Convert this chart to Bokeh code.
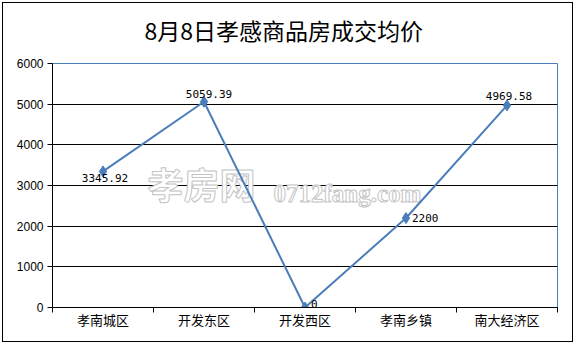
from bokeh.plotting import figure
from bokeh.models import FixedTicker, Label, Range1d, Title
from bokeh.embed import file_html
from bokeh.resources import INLINE

# ---- data ----
title_text = "8月8日孝感商品房成交均价"
categories = ["孝南城区", "开发东区", "开发西区", "孝南乡镇", "南大经济区"]
prices = [3345.92, 5059.39, 0, 2200, 4969.58]
price_labels = ["3345.92", "5059.39", "0", "2200", "4969.58"]
y_ticks = [0, 1000, 2000, 3000, 4000, 5000, 6000]
watermark_cn = "孝房网"
watermark_en = "0712fang.com"

# ---- styles ----
BLUE = "#4a7ebb"
label_styles = [
    dict(text_align="center", text_baseline="top", x_offset=2, y_offset=-3),
    dict(text_align="center", text_baseline="bottom", x_offset=5, y_offset=4),
    dict(text_align="left", text_baseline="bottom", x_offset=6, y_offset=0),
    dict(text_align="left", text_baseline="middle", x_offset=6, y_offset=0),
    dict(text_align="center", text_baseline="bottom", x_offset=2, y_offset=5),
]

n = len(categories)
xs = [i + 0.5 for i in range(n)]

p = figure(width=575, height=344, output_backend="svg", toolbar_location=None,
           x_range=Range1d(0, n), y_range=Range1d(y_ticks[0], y_ticks[-1]),
           min_border_left=52, min_border_right=18, min_border_top=63,
           min_border_bottom=37)
p.title = None
p.styles = {"outline": "1px solid #000000", "outline-offset": "-3px",
            "background-color": "white"}
p.background_fill_color = None
p.border_fill_color = None
p.outline_line_color = BLUE
p.outline_line_width = 1
p.outline_line_alpha = 1.0

# title (a thin spacer keeps it clear of the plot area)
p.add_layout(Title(text=" ", text_font_size="2px", standoff=13), "above")
p.add_layout(Title(text=title_text, align="left", offset=92, standoff=0,
                   text_font="Noto Sans CJK SC", text_font_style="normal",
                   text_font_size="23px", text_color="black"), "above")

# x axis: labels at category centres, tick marks at boundaries
p.xaxis.ticker = FixedTicker(ticks=xs, minor_ticks=list(range(n + 1)))
p.xaxis.major_label_overrides = {x: c for x, c in zip(xs, categories)}
p.xaxis.major_tick_out = 0
p.xaxis.major_tick_in = 0
p.xaxis.minor_tick_out = 5
p.xaxis.minor_tick_in = 0
p.xaxis.minor_tick_line_color = "black"
p.xaxis.axis_line_color = "black"
p.xaxis.major_label_standoff = -3
p.xaxis.major_label_text_font = "Noto Sans CJK SC"
p.xaxis.major_label_text_font_size = "13px"
p.xaxis.major_label_text_color = "black"

# y axis
p.yaxis.ticker = FixedTicker(ticks=y_ticks)
p.yaxis.major_tick_out = 5
p.yaxis.major_tick_in = 0
p.yaxis.minor_tick_line_color = None
p.yaxis.axis_line_color = "black"
p.yaxis.major_tick_line_color = "black"
p.yaxis.major_label_standoff = 4
p.yaxis.major_label_text_font = "Liberation Sans"
p.yaxis.major_label_text_font_size = "12px"
p.yaxis.major_label_text_color = "black"

p.xgrid.visible = False
p.ygrid.ticker = FixedTicker(ticks=y_ticks[1:-1])
p.ygrid.grid_line_color = "black"
p.ygrid.grid_line_width = 1
p.ygrid.grid_line_alpha = 1.0

# watermark
p.add_layout(Label(x=95, y=99, x_units="screen", y_units="screen", text=watermark_cn,
                   text_font="Noto Sans CJK SC", text_font_style="bold",
                   text_font_size="36px", text_color="white",
                   text_outline_color="#c4c4c4", level="underlay"))
p.add_layout(Label(x=221, y=101, x_units="screen", y_units="screen", text=watermark_en,
                   text_font="Liberation Serif", text_font_style="bold",
                   text_font_size="25px", text_color="white",
                   text_outline_color="#c4c4c4", level="underlay"))

# series
p.line(xs, prices, line_color=BLUE, line_width=2)
p.scatter(xs, prices, marker="diamond", size=11, fill_color=BLUE, line_color=BLUE)

for x, yv, t, st in zip(xs, prices, price_labels, label_styles):
    p.add_layout(Label(x=x, y=yv, text=t, text_font="DejaVu Sans Mono",
                       text_font_size="11px", text_color="black", **st))

open("out.html", "w").write(file_html(p, INLINE))
